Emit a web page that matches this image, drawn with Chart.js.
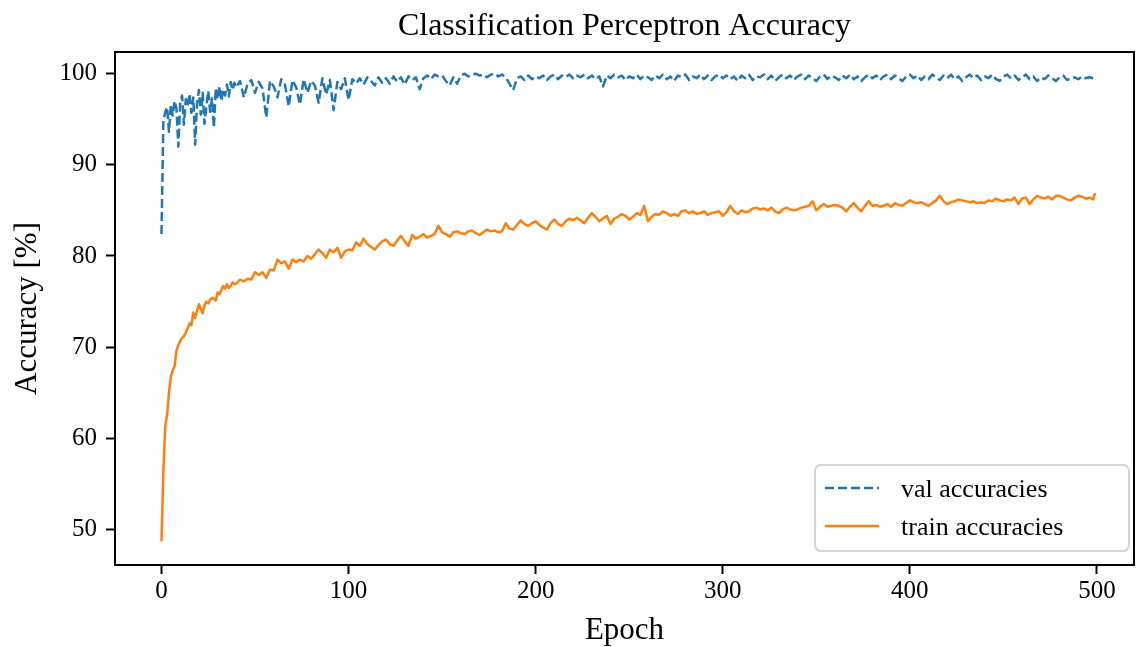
<!DOCTYPE html>
<html>
<head>
<meta charset="utf-8">
<title>Classification Perceptron Accuracy</title>
<script src="https://cdn.jsdelivr.net/npm/chart.js@4.4.1/dist/chart.umd.min.js"></script>
<style>
  html, body { margin: 0; padding: 0; background: #fff; }
  canvas { display: block; }
</style>
</head>
<body>
<canvas id="acc" width="1137" height="647"></canvas>
<script>
// ── Dados (epoch a epoch até 39, depois de 2 em 2, mais o último)
const EPOCHS = [];
for (let e = 0; e < 40; e++) EPOCHS.push(e);
for (let e = 40; e <= 498; e += 2) EPOCHS.push(e);
EPOCHS.push(499);

const VAL_ACC = [
  82.4, 94.7, 95.8, 96.3, 93.6, 96.6, 95.4, 97.0, 96.2, 92.0,
  96.8, 97.6, 94.4, 97.2, 96.5, 97.8, 95.7, 97.4, 92.2, 96.8,
  98.2, 95.5, 97.9, 94.5, 96.4, 98.1, 95.8, 97.3, 94.1, 98.4,
  97.2, 98.6, 97.0, 98.3, 97.6, 98.8, 97.5, 99.1, 98.2, 99.0,
  // 40..498 de 2 em 2
  98.5, 99.2, 97.4, 98.9, 99.3, 97.9, 99.1, 98.4, 95.2, 99.2,
  98.6, 97.4, 99.4, 98.8, 96.4, 99.3, 98.5, 96.6, 99.4, 97.9,
  99.2, 98.7, 96.8, 99.5, 97.7, 99.3, 96.0, 99.1, 98.3, 99.5,
  97.1, 99.4, 98.9, 99.5, 98.8, 99.6, 99.2, 98.7, 99.6, 99.0,
  99.5, 98.9, 99.7, 99.1, 99.6, 98.8, 99.7, 99.3, 99.6, 98.3,
  99.5, 99.8, 99.4, 99.9, 99.7, 99.8, 99.2, 98.7, 99.6, 98.9,
  99.8, 100.0, 99.7, 99.9, 100.0, 99.8, 99.9, 99.6, 99.9, 100.0,
  99.7, 99.9, 99.6, 98.9, 98.2, 99.5, 99.7, 99.3, 99.8, 99.4,
  99.7, 99.5, 99.8, 99.3, 99.7, 99.9, 99.4, 99.8, 99.6, 99.9,
  99.5, 99.8, 99.6, 99.9, 99.5, 99.8, 99.4, 99.7, 98.6, 99.8,
  99.5, 99.9, 99.6, 99.8, 99.3, 99.7, 99.5, 99.9, 99.4, 99.8,
  99.6, 99.3, 99.8, 99.5, 99.9, 99.4, 99.7, 99.2, 99.8, 99.6,
  99.9, 99.3, 99.7, 99.5, 99.9, 99.4, 99.8, 99.3, 99.7, 99.9,
  99.5, 99.8, 99.4, 99.7, 99.2, 99.8, 99.5, 99.9, 99.3, 99.7,
  99.6, 99.9, 99.4, 99.8, 99.2, 99.6, 99.9, 99.5, 99.8, 99.3,
  99.7, 99.9, 99.4, 99.8, 99.5, 99.2, 99.7, 99.9, 99.4, 99.8,
  99.6, 99.3, 99.8, 99.5, 99.9, 99.4, 99.7, 99.2, 99.6, 99.9,
  99.5, 99.8, 99.3, 99.7, 99.9, 99.4, 99.8, 99.5, 99.2, 99.7,
  99.9, 99.5, 99.8, 99.3, 99.7, 99.4, 99.9, 99.6, 99.3, 99.8,
  99.5, 99.9, 99.4, 99.7, 99.2, 99.6, 99.9, 99.5, 99.8, 99.3,
  99.7, 99.5, 99.9, 99.4, 99.2, 99.7, 99.9, 99.5, 99.8, 99.3,
  99.6, 99.9, 99.4, 99.7, 99.2, 99.6, 99.4, 99.8, 99.5, 99.2,
  99.6, 99.8, 99.3, 99.5, 99.6, 99.4, 99.7, 99.5, 99.6, 99.5,
  // 499
  99.8
];

const TRAIN_ACC = [
  48.7, 56.5, 61.3, 62.6, 65.0, 66.8, 67.4, 67.9, 69.6, 70.2,
  70.7, 71.0, 71.2, 71.6, 72.1, 72.6, 72.4, 73.8, 73.2, 74.0,
  74.7, 74.2, 73.7, 74.6, 75.0, 74.8, 75.2, 75.4, 75.3, 75.1,
  76.0, 75.8, 76.3, 76.7, 76.4, 76.9, 76.5, 76.7, 77.1, 76.9,
  // 40..498 de 2 em 2
  77.0, 77.4, 77.2, 77.5, 77.4, 78.2, 77.9, 78.2, 77.6, 78.5,
  78.4, 79.6, 79.2, 79.4, 78.6, 79.6, 79.3, 79.6, 79.4, 80.0,
  79.7, 80.2, 80.7, 80.3, 79.8, 80.7, 80.4, 80.9, 79.8, 80.5,
  80.7, 80.6, 81.5, 81.1, 81.9, 81.3, 81.0, 80.7, 81.2, 81.6,
  81.8, 81.3, 81.1, 81.7, 82.2, 81.6, 81.1, 82.3, 81.9, 82.1,
  82.4, 82.0, 82.2, 82.4, 83.3, 82.6, 82.4, 82.1, 82.6, 82.7,
  82.5, 82.4, 82.7, 82.8, 82.5, 82.3, 82.6, 82.9, 82.7, 82.8,
  82.6, 82.7, 83.6, 83.0, 82.9, 83.4, 83.9, 83.5, 83.3, 83.6,
  83.8, 83.4, 83.1, 82.9, 83.6, 84.0, 83.5, 83.3, 83.8, 84.1,
  83.9, 84.2, 83.9, 83.6, 84.2, 84.7, 84.3, 83.8, 84.1, 84.4,
  83.5, 84.1, 84.3, 84.6, 84.4, 84.0, 84.3, 84.7, 84.5, 85.5,
  83.8, 84.3, 84.6, 84.5, 84.9, 84.7, 84.4, 84.6, 84.4, 84.9,
  85.0, 84.7, 84.9, 84.6, 84.7, 84.9, 84.5, 84.7, 84.8, 84.9,
  84.4, 84.8, 85.5, 84.9, 84.6, 85.0, 84.8, 84.9, 85.2, 85.3,
  85.1, 85.2, 85.0, 85.3, 84.9, 84.7, 85.1, 85.3, 85.1, 85.0,
  85.1, 85.3, 85.4, 85.5, 86.0, 85.0, 85.4, 85.7, 85.4, 85.5,
  85.6, 85.5, 85.3, 84.9, 85.4, 85.8, 85.3, 84.9, 85.5, 86.0,
  85.5, 85.6, 85.4, 85.5, 85.7, 85.4, 85.8, 85.6, 85.5, 85.8,
  86.1, 85.9, 85.8, 85.9, 85.7, 85.5, 85.8, 86.1, 86.6, 86.0,
  85.7, 85.9, 86.0, 86.2, 86.1, 86.0, 85.9, 86.0, 85.8, 85.9,
  85.8, 86.1, 86.0, 86.3, 86.1, 86.0, 86.2, 86.1, 86.4, 85.7,
  86.3, 86.4, 85.7, 86.2, 86.6, 86.4, 86.3, 86.5, 86.2, 86.6,
  86.6, 86.4, 86.2, 86.1, 86.4, 86.6, 86.5, 86.3, 86.4, 86.2,
  // 499
  86.9
];

const X_TICKS = [0, 100, 200, 300, 400, 500];
const Y_TICKS = [50, 60, 70, 80, 90, 100];

const FONT = "'Liberation Serif', 'Times New Roman', serif";
const BLUE = '#1f77b4';
const ORANGE = '#ff7f0e';

// ── Moldura completa (4 lados) + legenda no canto inferior direito
const frameAndLegend = {
  id: 'frameAndLegend',
  afterDraw(chart) {
    const { ctx, chartArea: a } = chart;
    ctx.save();
    ctx.strokeStyle = '#000';
    ctx.lineWidth = 2;
    ctx.strokeRect(a.left, a.top, a.right - a.left, a.bottom - a.top);

    // legenda
    const bw = 314, bh = 86;
    const bx = a.right - 5 - bw, by = a.bottom - 14 - bh;
    ctx.beginPath();
    ctx.roundRect(bx, by, bw, bh, 6);
    ctx.fillStyle = 'rgba(255,255,255,0.8)';
    ctx.fill();
    ctx.strokeStyle = '#d4d4d4';
    ctx.lineWidth = 2;
    ctx.stroke();

    ctx.font = '26px ' + FONT;
    ctx.fillStyle = '#000';
    ctx.textBaseline = 'middle';
    chart.data.datasets.forEach((ds, i) => {
      const y = by + 23 + i * 38;
      ctx.beginPath();
      ctx.setLineDash(ds.borderDash || []);
      ctx.strokeStyle = ds.borderColor;
      ctx.lineWidth = ds.borderWidth;
      ctx.moveTo(bx + 10, y);
      ctx.lineTo(bx + 64, y);
      ctx.stroke();
      ctx.setLineDash([]);
      ctx.fillText(ds.label, bx + 86, y + 2);
    });
    ctx.restore();
  }
};

const toPts = arr => EPOCHS.map((e, i) => ({ x: e, y: arr[i] }));

new Chart(document.getElementById('acc').getContext('2d'), {
  type: 'line',
  data: {
    datasets: [
      { label: 'val accuracies', data: toPts(VAL_ACC), borderColor: BLUE, borderWidth: 2.5, borderDash: [9, 4], pointRadius: 0, tension: 0, fill: false, borderJoinStyle: 'round' },
      { label: 'train accuracies', data: toPts(TRAIN_ACC), borderColor: ORANGE, borderWidth: 2.5, pointRadius: 0, tension: 0, fill: false, borderJoinStyle: 'round' }
    ]
  },
  options: {
    responsive: false,
    animation: false,
    devicePixelRatio: 1,
    layout: { padding: { left: 0, right: 3, top: 0, bottom: 0 } },
    plugins: {
      legend: { display: false },
      tooltip: { enabled: false },
      title: {
        display: true,
        text: 'Classification Perceptron Accuracy',
        fullSize: false,
        color: '#000',
        font: { family: FONT, size: 32, weight: 'normal', lineHeight: 1.2 },
        padding: { top: 7, bottom: 6.6 }
      }
    },
    scales: {
      x: {
        type: 'linear',
        min: -24.85,
        max: 519.8,
        afterBuildTicks: ax => { ax.ticks = X_TICKS.map(v => ({ value: v })); },
        afterFit: ax => { ax.height = 82; },
        border: { display: false },
        grid: { drawOnChartArea: false, drawTicks: true, tickLength: 9, tickWidth: 2, tickColor: '#000' },
        ticks: { color: '#000', padding: 2, maxRotation: 0, font: { family: FONT, size: 25 } },
        title: { display: true, text: 'Epoch', color: '#000', font: { family: FONT, size: 31, lineHeight: 1.0 }, padding: { top: 0, bottom: 1 } }
      },
      y: {
        type: 'linear',
        min: 46.09,
        max: 102.38,
        afterBuildTicks: ax => { ax.ticks = Y_TICKS.map(v => ({ value: v })); },
        afterFit: ax => { ax.width = 115; },
        border: { display: false },
        grid: { drawOnChartArea: false, drawTicks: true, tickLength: 9, tickWidth: 2, tickColor: '#000' },
        ticks: { color: '#000', padding: 9, font: { family: FONT, size: 25 } },
        title: { display: true, text: 'Accuracy [%]', color: '#000', font: { family: FONT, size: 31, lineHeight: 1.0 }, padding: { top: 12, bottom: 0 } }
      }
    }
  },
  plugins: [frameAndLegend]
});
</script>
</body>
</html>
